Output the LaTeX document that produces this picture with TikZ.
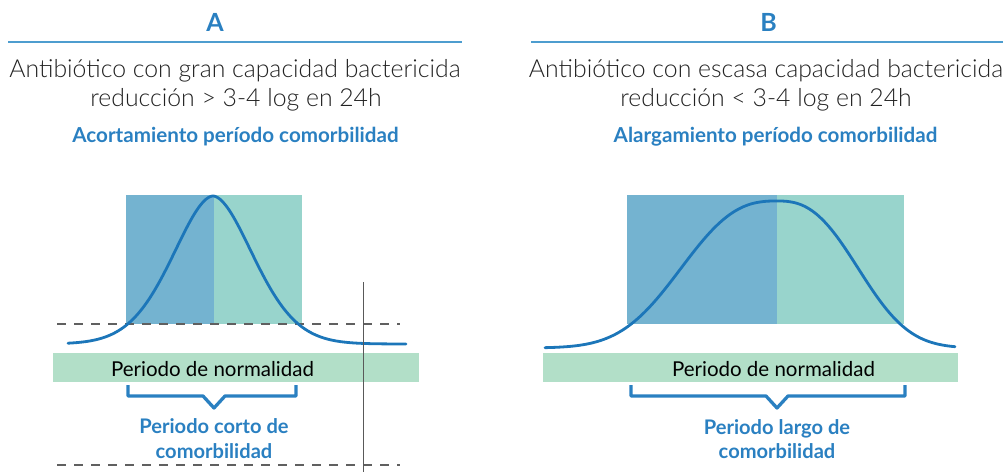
\documentclass[tikz,border=0pt]{standalone}
\usepackage{fontspec}
\setmainfont{Lato}[UprightFont=* Light, BoldFont=* Bold]
\newfontfamily\latoreg{Lato}
\definecolor{rectblue}{HTML}{74B3D0}
\definecolor{rectteal}{HTML}{98D4CC}
\definecolor{normgreen}{HTML}{B2DFC8}
\definecolor{curveblue}{HTML}{1C76B9}
\definecolor{txtblue}{HTML}{2A80C1}
\definecolor{rulecol}{HTML}{4D9DCF}
\definecolor{txtgray}{HTML}{222222}
\tikzset{
  heading/.style={anchor=base, inner sep=0pt, text=txtblue, font=\fontsize{25}{30}\selectfont\bfseries},
  bigtxt/.style={anchor=base, inner sep=0pt, text=txtgray, font=\fontsize{24.8}{28}\selectfont},
  bluetxt/.style={anchor=base, inner sep=0pt, text=txtblue, font=\fontsize{20.6}{24}\selectfont\bfseries},
  bartxt/.style={anchor=base, inner sep=0pt, text=black, font=\latoreg\fontsize{20.5}{22}\selectfont},
  comtxt/.style={anchor=base, inner sep=0pt, text=txtblue, font=\fontsize{20.1}{22}\selectfont\bfseries},
  brace/.style={draw=txtblue, line width=3.3pt, line join=round},
  curve/.style={draw=curveblue, line width=2.8pt, line cap=round},
  dashline/.style={draw=gray!75!black, line width=1.6pt, dash pattern=on 9pt off 8pt}
}
\begin{document}
\begin{tikzpicture}[x=1pt,y=-1pt]
\useasboundingbox (0,0) rectangle (1008,472);
% A
\node[heading] (hA) at (215,31) {A};
\draw[rulecol, line width=1.8pt] (8,42) -- (462,42);
\node[bigtxt] (a1) at (235,77) {Antibiótico con gran capacidad bactericida};
\node[bigtxt] (a2) at (236,106) {reducción > 3-4 log en 24h};
\node[bluetxt] (a3) at (235.5,142) {Acortamiento período comorbilidad};
\fill[rectblue] (126,195) rectangle (214,324);
\fill[rectteal] (214,195) rectangle (302,324);
\draw[dashline] (57,324) -- (400,324);
\draw[curve] plot[domain=68:406, samples=170] (\x, {344 - 148*exp(-pow((abs(\x-213)+0.01)/58,1.8))});
\fill[normgreen] (53,353) rectangle (419,382);
\node[bartxt] (na) at (212.5,376) {Periodo de normalidad};
\draw[brace] (128,385) -- (128,396) -- (203,396) -- (214,408) -- (225,396) -- (296,396) -- (296,385);
\node[comtxt] (ca1) at (214,433) {Periodo corto de};
\node[comtxt] (ca2) at (214,458) {comorbilidad};
\draw[dashline] (57,465) -- (400,465);
\draw[gray!70!black, line width=1pt] (363,282) -- (363,472);
% B
\node[heading] (hB) at (768.5,31) {B};
\draw[rulecol, line width=1.8pt] (531,42) -- (1003,42);
\node[bigtxt] (b1) at (766,77) {Antibiótico con escasa capacidad bactericida};
\node[bigtxt] (b2) at (766,106) {reducción < 3-4 log en 24h};
\node[bluetxt] (b3) at (775.5,142) {Alargamiento período comorbilidad};
\fill[rectblue] (627,195) rectangle (777,324);
\fill[rectteal] (777,195) rectangle (904,324);
\draw[curve] plot[domain=545:955, samples=170] (\x, {348 - 147*exp(-pow((abs(\x-777)+0.01)/ifthenelse(\x<777,116,98),2.6))});
\fill[normgreen] (543,353) rectangle (958,382);
\node[bartxt] (nb) at (773.5,376) {Periodo de normalidad};
\draw[brace] (631,385) -- (631,396) -- (766,396) -- (777,408) -- (788,396) -- (905,396) -- (905,385);
\node[comtxt] (cb1) at (777,434) {Periodo largo de};
\node[comtxt] (cb2) at (777,458) {comorbilidad};
\end{tikzpicture}
\end{document}
